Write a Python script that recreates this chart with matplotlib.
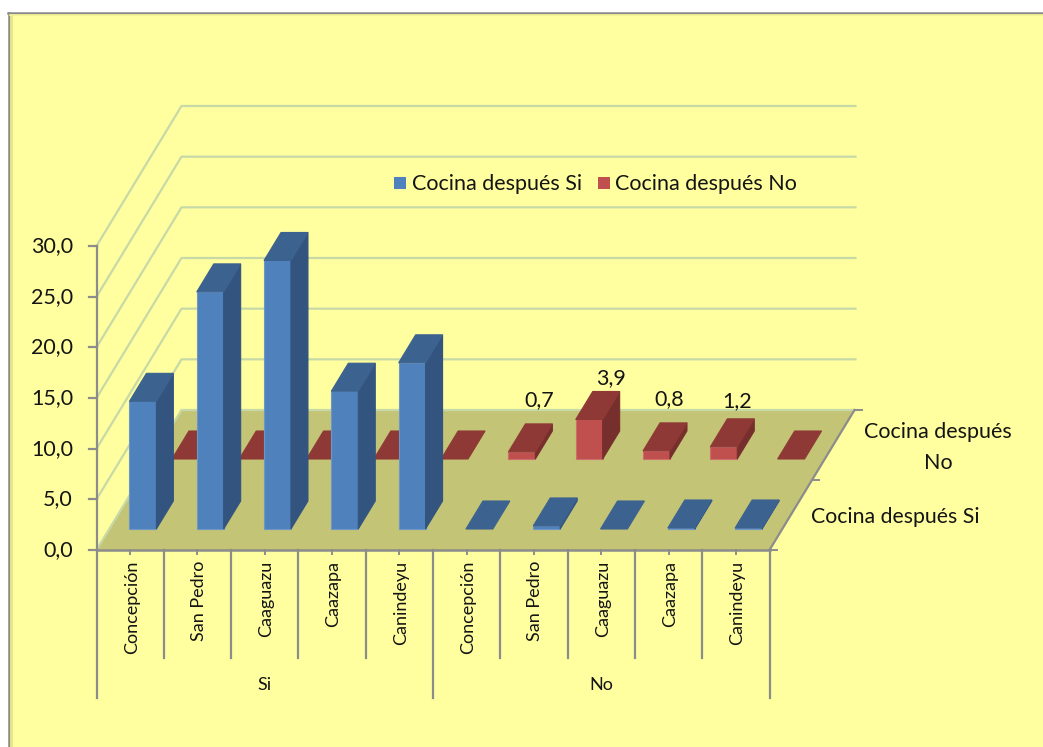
import matplotlib
matplotlib.use("Agg")
import matplotlib.pyplot as plt
from matplotlib.patches import Rectangle

plt.rcParams['font.family'] = ['Lato', 'DejaVu Sans']

# datos
departamentos = ["Concepción", "San Pedro", "Caaguazu", "Caazapa", "Canindeyu"]
grupos = ["Si", "No"]
series = ["Cocina después Si", "Cocina después No"]
cocina_si = [12.6, 23.4, 26.5, 13.6, 16.4, 0.0, 0.3, 0.0, 0.1, 0.1]
cocina_no = [0.0, 0.0, 0.0, 0.0, 0.0, 0.7, 3.9, 0.8, 1.2, 0.0]
etiquetas_no = {5: "0,7", 6: "3,9", 7: "0,8", 8: "1,2"}
ticks_y = [0, 5, 10, 15, 20, 25, 30]

# geometria del grafico, en pixeles de la imagen
X0, Y0 = 96.5, 550
SLOT = 67.3
PX_UNIDAD = 304 / 30
DEPTH_X, DEPTH_Y = 85, 140   # fondo total del piso
FONDO = "#FFFF9F"
GRIS = "#8C8C8C"
GRID = "#C6D9A6"
PISO = "#C3C476"
TEXTO = "#141414"
AZUL = ("#4F81BD", "#3C6290", "#33547E", "#6F97C6")
ROJO = ("#C0504D", "#8E3936", "#772F2D", "#CC6E6B")


def proy(cat, prof, valor):
    # cat: posicion en categorias, prof: 0 a 2 (serie), valor: eje y
    x = X0 + cat * SLOT + prof / 2 * DEPTH_X
    y = Y0 - prof / 2 * DEPTH_Y - valor * PX_UNIDAD
    return x, y


def cara(ax, puntos, color, borde, z):
    xs = [p[0] for p in puntos]
    ys = [p[1] for p in puntos]
    ax.fill(xs, ys, facecolor=color, edgecolor=borde, linewidth=0.8, zorder=z)


def barra(ax, cat, serie, valor, colores, z):
    c0, c1 = cat + 0.3, cat + 0.7
    p0, p1 = serie + 0.3, serie + 0.7
    # frente, lado derecho y tapa
    if valor > 0:
        cara(ax, [proy(c0, p0, 0), proy(c1, p0, 0), proy(c1, p0, valor), proy(c0, p0, valor)],
             colores[0], colores[3], z)
        cara(ax, [proy(c1, p0, 0), proy(c1, p1, 0), proy(c1, p1, valor), proy(c1, p0, valor)],
             colores[2], colores[2], z)
    cara(ax, [proy(c0, p0, valor), proy(c1, p0, valor), proy(c1, p1, valor), proy(c0, p1, valor)],
         colores[1], colores[1], z)


fig = plt.figure(figsize=(10.43, 7.47), dpi=100, facecolor="white")
ax = fig.add_axes([0, 0, 1, 1])
ax.set_xlim(0, 1043)
ax.set_ylim(747, 0)
ax.axis("off")

# marco
ax.add_patch(Rectangle((8, 13), 1040, 740, facecolor=FONDO, edgecolor="none", zorder=0))
ax.plot([8.5, 8.5], [747, 13], color="#8A8A8A", lw=1.8, zorder=1)
ax.plot([8, 1043], [13, 13], color="#8A8A8A", lw=1.8, zorder=1)
ax.plot([11, 11], [747, 15], color="#E6E68E", lw=2, zorder=1)
ax.plot([10, 1043], [15, 15], color="#F2F296", lw=1.2, zorder=1)

# piso y lineas de la pared
cara(ax, [proy(0, 0, 0), proy(10, 0, 0), proy(10, 2, 0), proy(0, 2, 0)], PISO, PISO, 2)
for v in ticks_y:
    a = proy(0, 0, v)
    b = proy(0, 2, v)
    c = (855.5, b[1])
    ax.plot([a[0], b[0], c[0]], [a[1], b[1], c[1]], color=GRID, lw=1.6, zorder=2,
            solid_joinstyle="miter")

# barras, primero la serie de atras
for i, v in enumerate(cocina_no):
    barra(ax, i, 1, v, ROJO, 3)
for i, v in enumerate(cocina_si):
    barra(ax, i, 0, v, AZUL, 4)

# ejes
ax.plot([X0, X0], [proy(0, 0, 30)[1], Y0], color=GRIS, lw=1.6, zorder=5)
for v in ticks_y:
    y = proy(0, 0, v)[1]
    ax.plot([X0 - 8, X0], [y, y], color=GRIS, lw=1.6, zorder=5)
    ax.text(73, y, f"{v:.1f}".replace(".", ","), ha="right", va="center", fontsize=15.5,
            color=TEXTO, zorder=6)

ax.plot([X0, proy(10, 0, 0)[0]], [Y0, Y0], color=GRIS, lw=1.8, zorder=5)
a = proy(10, 0, 0)
b = proy(10, 2, 0)
ax.plot([a[0], b[0]], [a[1], b[1]], color=GRIS, lw=1.6, zorder=5)
for p in [0, 1, 2]:
    q = proy(10, p, 0)
    ax.plot([q[0], q[0] + 7], [q[1], q[1]], color=GRIS, lw=1.4, zorder=5)

# separadores y etiquetas de categorias
for i in range(11):
    x = proy(i, 0, 0)[0]
    fin = 698 if i % 5 == 0 else 658
    ax.plot([x, x], [Y0, fin], color=GRIS, lw=1.6, zorder=5)
for i in range(10):
    x = proy(i + 0.5, 0, 0)[0]
    ax.plot([x, x], [Y0, Y0 + 4], color=GRIS, lw=1.4, zorder=5)
    ax.text(x + 1.5, 561, departamentos[i % 5], rotation=90, ha="center", va="top", fontsize=13,
            color=TEXTO, zorder=6)
for g, nombre in enumerate(grupos):
    x = proy(5 * g + 2.5, 0, 0)[0]
    ax.text(x, 685, nombre, ha="center", va="center", fontsize=13, color=TEXTO, zorder=6)

# etiquetas de datos, corridas a mano como en el original
corrimiento = {5: (17, -52), 6: (22, -41), 7: (13, -52), 8: (13, -46)}
for i, texto in etiquetas_no.items():
    x, y = proy(i + 0.5, 1.3, cocina_no[i])
    dx, dy = corrimiento[i]
    ax.text(x + dx, y + dy, texto, ha="center", va="center", fontsize=15.5, color=TEXTO, zorder=6)

# leyenda
ax.add_patch(Rectangle((394, 177), 12, 12, facecolor=AZUL[0], edgecolor="none", zorder=6))
ax.text(412, 184, series[0], ha="left", va="center", fontsize=15.5, color=TEXTO, zorder=6)
ax.add_patch(Rectangle((598, 177), 12, 12, facecolor=ROJO[0], edgecolor="none", zorder=6))
ax.text(615, 184, series[1], ha="left", va="center", fontsize=15.5, color=TEXTO, zorder=6)

# nombres de series al costado
ax.text(938, 447.5, "Cocina después\nNo", ha="center", va="center", fontsize=15.5, color=TEXTO,
        linespacing=1.65, zorder=6)
ax.text(895, 517, series[0], ha="center", va="center", fontsize=15.3, color=TEXTO, zorder=6)

fig.savefig("out.png", dpi=100)
